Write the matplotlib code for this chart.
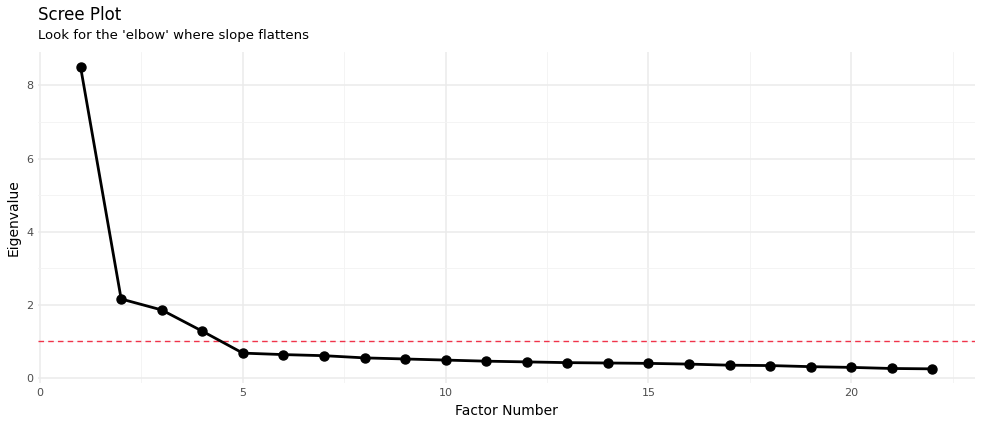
import matplotlib
matplotlib.use("Agg")
import matplotlib.pyplot as plt

factors = list(range(1, 23))
eigenvalues = [8.50, 2.16, 1.86, 1.28, 0.68, 0.64, 0.61, 0.55, 0.52, 0.49, 0.46,
               0.44, 0.42, 0.41, 0.40, 0.38, 0.35, 0.34, 0.31, 0.29, 0.26, 0.25]
xticks = [0, 5, 10, 15, 20]
yticks = [0, 2, 4, 6, 8]

fig = plt.figure(figsize=(9.81, 4.26), dpi=100)
ax = fig.add_axes([38/981, 0.0998, 937/981, 0.778])
ax.set_xlim(-0.05, 23.05)
ax.set_ylim(-0.15, 8.91)
for s in ax.spines.values():
    s.set_visible(False)
ax.set_xticks(xticks)
ax.set_yticks(yticks)
ax.set_xticks([2.5, 7.5, 12.5, 17.5, 22.5], minor=True)
ax.set_yticks([1, 3, 5, 7], minor=True)
ax.grid(True, which="major", color="#ebebeb", lw=1.1)
ax.grid(True, which="minor", color="#f3f3f3", lw=0.6)
ax.tick_params(which="both", length=0, labelsize=8, labelcolor="#4d4d4d")
ax.set_axisbelow(True)
ax.axhline(1, color="#f0334a", ls=(0, (4, 3)), lw=1)
ax.plot(factors, eigenvalues, color="black", lw=2, marker="o", ms=6.5, zorder=3)
ax.set_xlabel("Factor Number", fontsize=10)
ax.set_ylabel("Eigenvalue", fontsize=10)
fig.text(38/981, 1 - 15/426, "Scree Plot", fontsize=12, va="center")
fig.text(38/981, 1 - 36/426, "Look for the 'elbow' where slope flattens", fontsize=9.5, va="center")
fig.savefig("out.png", dpi=100)
